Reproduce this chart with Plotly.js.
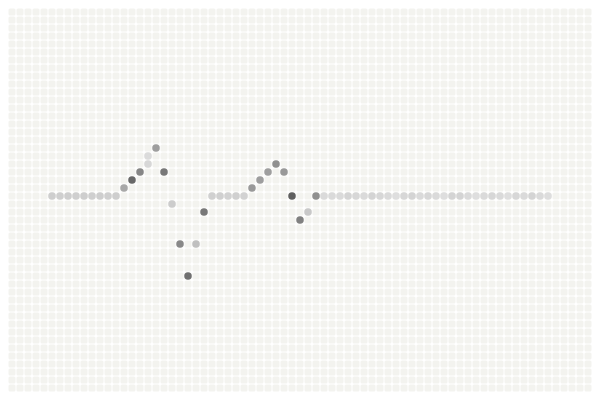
<!DOCTYPE html>
<html>
<head>
<meta charset="utf-8">
<script src="https://cdn.plot.ly/plotly-3.0.1.min.js"></script>
<style>
  body { margin: 0; background: #ffffff; }
  #chart { width: 600px; height: 400px; }
  /* round the corners of the background cells */
  #chart .scatterlayer .trace:first-child path.point { stroke-linejoin: round; }
</style>
</head>
<body>
<div id="chart"></div>
<script>
// grid size (columns x rows of the dot matrix)
var nCols = 73;
var nRows = 48;

// the signal: column index, level above baseline, and shade (0 light .. 1 dark)
var cols = [5, 6, 7, 8, 9, 10, 11, 12, 13,
    14, 15, 16, 17, 17, 18, 19, 20, 21, 22, 23, 24,
    25, 26, 27, 28, 29,
    30, 31, 32, 33, 34, 35, 36, 37, 38,
    39, 40, 41, 42, 43, 44, 45, 46, 47, 48, 49, 50, 51, 52, 53,
    54, 55, 56, 57, 58, 59, 60, 61, 62, 63, 64, 65, 66, 67];
var levels = [0, 0, 0, 0, 0, 0, 0, 0, 0,
    1, 2, 3, 4, 5, 6, 3, -1, -6, -10, -6, -2,
    0, 0, 0, 0, 0,
    1, 2, 3, 4, 3, 0, -3, -2, 0,
    0, 0, 0, 0, 0, 0, 0, 0, 0, 0, 0, 0, 0, 0, 0,
    0, 0, 0, 0, 0, 0, 0, 0, 0, 0, 0, 0, 0, 0, 0];
var shade = [0.15, 0.14, 0.15, 0.14, 0.15, 0.14, 0.15, 0.14, 0.15,
    0.43, 0.9, 0.68, 0.08, 0.05, 0.5, 0.78, 0.16, 0.66, 0.84, 0.25, 0.78,
    0.13, 0.13, 0.12, 0.13, 0.12,
    0.54, 0.5, 0.5, 0.6, 0.54, 0.96, 0.72, 0.19, 0.6,
    0.06, 0.06, 0.06, 0.1, 0.08, 0.06, 0.1, 0.08, 0.06, 0.03, 0.08, 0.1, 0.06, 0.08, 0.06,
    0.03, 0.1, 0.1, 0.06, 0.03, 0.06, 0.08, 0.06, 0.03, 0.08, 0.06, 0.1, 0.06, 0.04];

var baseRow = 23; // row of the zero level, counted from the top

var gx = [];
var gy = [];
for (var r = 0; r < nRows; r++) {
    for (var c = 0; c < nCols; c++) {
        gx.push(c);
        gy.push(baseRow - r);
    }
}

var grid = {
    x: gx,
    y: gy,
    type: 'scatter',
    mode: 'markers',
    hoverinfo: 'skip',
    marker: {
        symbol: 'square',
        size: 4,
        color: '#f3f3ef',
        line: { color: '#f3f3ef', width: 3 }
    }
};

var signal = {
    x: cols,
    y: levels,
    type: 'scatter',
    mode: 'markers',
    marker: {
        symbol: 'circle',
        size: 7.5,
        color: shade,
        cmin: 0,
        cmax: 1,
        colorscale: [[0, '#e2e2e2'], [1, '#5a5a5a']],
        line: { width: 0 }
    }
};

var layout = {
    width: 600,
    height: 400,
    showlegend: false,
    hovermode: false,
    paper_bgcolor: '#ffffff',
    plot_bgcolor: '#ffffff',
    margin: { l: 8, r: 8, t: 8, b: 8 },
    xaxis: {
        range: [-0.5, nCols - 0.5],
        visible: false,
        fixedrange: true
    },
    yaxis: {
        range: [baseRow - nRows + 0.5, baseRow + 0.5],
        visible: false,
        fixedrange: true
    }
};

Plotly.newPlot('chart', [grid, signal], layout, { displayModeBar: false, staticPlot: true });
</script>
</body>
</html>
